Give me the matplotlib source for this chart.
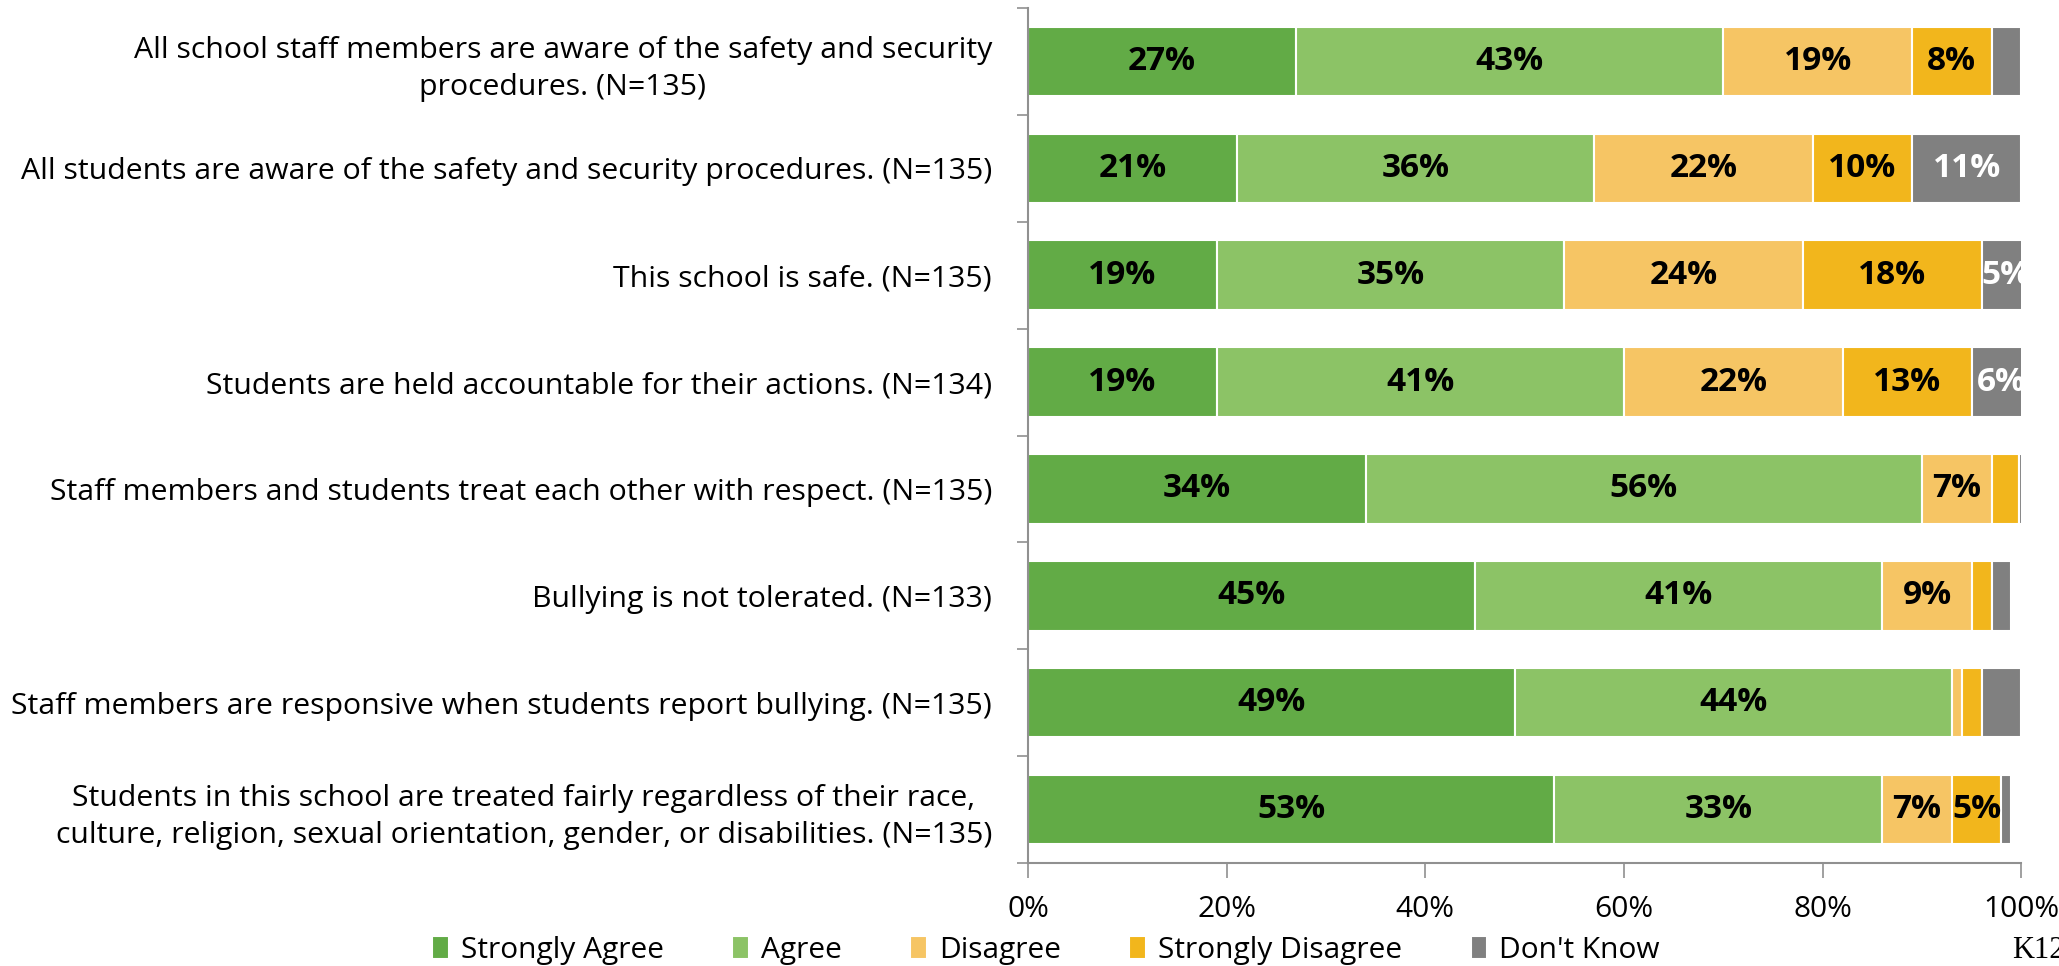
import numpy as np
import matplotlib.pyplot as plt

plt.rcParams['font.family'] = ['Open Sans', 'DejaVu Sans']

questions = [
    "All school staff members are aware of the safety and security\nprocedures. (N=135)",
    "All students are aware of the safety and security procedures. (N=135)",
    "This school is safe. (N=135)",
    "Students are held accountable for their actions. (N=134)",
    "Staff members and students treat each other with respect. (N=135)",
    "Bullying is not tolerated. (N=133)",
    "Staff members are responsive when students report bullying. (N=135)",
    "Students in this school are treated fairly regardless of their race,\nculture, religion, sexual orientation, gender, or disabilities. (N=135)",
]
series = ["Strongly Agree", "Agree", "Disagree", "Strongly Disagree", "Don't Know"]
strongly_agree = [27, 21, 19, 19, 34, 45, 49, 53]
agree = [43, 36, 35, 41, 56, 41, 44, 33]
disagree = [19, 22, 24, 22, 7, 9, 1, 7]
strongly_disagree = [8, 10, 18, 13, 2.8, 2, 2, 5]
dont_know = [3, 11, 5, 6, 0.3, 2, 4, 1]

colors = ["#62AB46", "#8CC366", "#F6C564", "#F2B61C", "#808080"]
label_colors = ["black", "black", "black", "black", "white"]

fig = plt.figure(figsize=(20.59, 9.66), dpi=100)
ax = fig.add_axes([0.4993, 0.1066, 0.4824, 0.8851])

y = np.arange(len(questions))
left = np.zeros(len(questions))
for name, vals, c, lc in zip(series, [strongly_agree, agree, disagree, strongly_disagree, dont_know],
                             colors, label_colors):
    vals = np.array(vals, dtype=float)
    ax.barh(y, vals, left=left, height=0.65, color=c, edgecolor="white",
            linewidth=1.5, label=name)
    for yi, l, v in zip(y, left, vals):
        if v >= 5:
            ax.text(l + v / 2, yi, f"{v:.0f}%", ha="center", va="center",
                    fontsize=24, fontweight="bold", color=lc)
    left += vals

ax.set_xlim(0, 100)
ax.set_ylim(len(questions) - 0.5, -0.5)
ax.set_xticks([0, 20, 40, 60, 80, 100])
ax.set_xticklabels([f"{v}%" for v in [0, 20, 40, 60, 80, 100]], fontsize=21.5)
ax.tick_params(axis="x", length=11, width=1.2, color="#909090", pad=12)

ax.set_yticks(np.arange(len(questions) + 1) - 0.5)
ax.set_yticklabels([])
ax.tick_params(axis="y", which="major", length=8, width=1.2, color="#909090")
ax.set_yticks(y, minor=True)
ax.set_yticklabels(questions, minor=True, fontsize=21.8, ha="right",
                   multialignment="center", linespacing=1.35)
ax.tick_params(axis="y", which="minor", length=0, pad=26)

for s in ["top", "right"]:
    ax.spines[s].set_visible(False)
for s in ["left", "bottom"]:
    ax.spines[s].set_color("#909090")
    ax.spines[s].set_linewidth(1.5)

handles, labels = ax.get_legend_handles_labels()
fig.legend(handles, labels, loc="center", bbox_to_anchor=(0.508, 0.0165), ncol=5,
           frameon=False, fontsize=21.5, handlelength=0.55, handleheight=0.8,
           handletextpad=0.4, columnspacing=2.3)

fig.text(0.977, 0.0165, "K12", family="Liberation Serif", fontsize=22, va="center", ha="left")

plt.savefig("out.png", dpi=100)
